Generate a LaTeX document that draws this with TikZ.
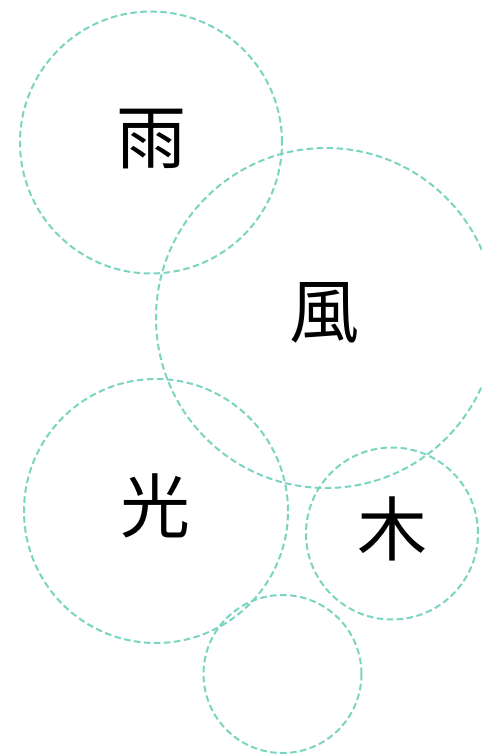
\documentclass[tikz,border=0pt]{standalone}
\usepackage{fontspec}
\newfontfamily\cjk{Noto Sans CJK JP}
\definecolor{ring}{HTML}{7AD4C0}
\begin{document}
\begin{tikzpicture}[x=1pt,y=-1pt,
  ringstyle/.style={draw=ring,line width=2pt,dash pattern=on 6.5pt off 3.5pt,circle,inner sep=0pt},
  lbl/.style={font=\cjk\fontsize{70}{70}\selectfont,inner sep=0pt,text=black}]
\useasboundingbox (0,0) rectangle (482,756);
\node[ringstyle,minimum size=262pt] (c1) at (151,142.5) {};
\node[ringstyle,minimum size=340pt] (c2) at (326,318) {};
\node[ringstyle,minimum size=264pt] (c3) at (156,511) {};
\node[ringstyle,minimum size=172pt] (c4) at (392,533.5) {};
\node[ringstyle,minimum size=158pt] (c5) at (282.5,674) {};
\node[lbl] (t1) at (151,139) {雨};
\node[lbl] (t2) at (324,313) {風};
\node[lbl] (t3) at (155,506) {光};
\node[lbl] (t4) at (392,529) {木};
\end{tikzpicture}
\end{document}
